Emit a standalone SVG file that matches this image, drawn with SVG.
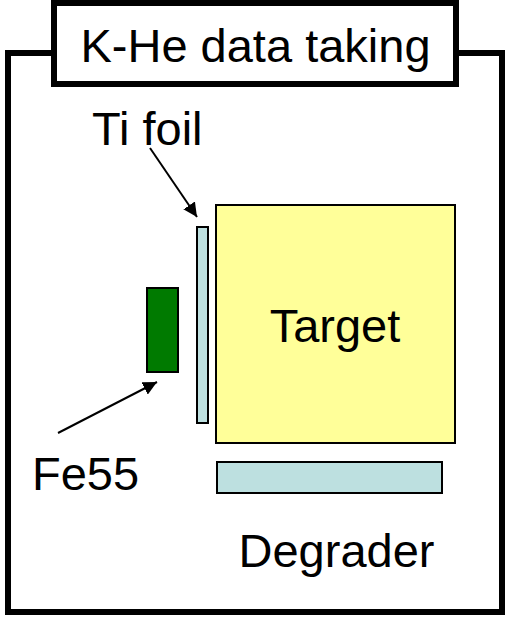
<svg xmlns="http://www.w3.org/2000/svg" width="505" height="617" viewBox="0 0 505 617">
<style>
text{font-family:"Liberation Sans",Arial,sans-serif;font-size:47px;fill:#000}
.frame{fill:#fff;stroke:#000;stroke-width:6}
.part{stroke:#000;stroke-width:2}
.conn{stroke:#000;stroke-width:2;fill:none}
</style>
<defs>
<marker id="ah" viewBox="0 0 10 10" refX="10" refY="5" markerWidth="7" markerHeight="7" markerUnits="strokeWidth" orient="auto">
<path d="M0,0 L10,5 L0,10 z" fill="#000"/>
</marker>
</defs>
<g id="frame">
<rect class="frame" x="8" y="53" width="494" height="559"/>
</g>
<g id="title">
<rect class="frame" x="54" y="3" width="402" height="81"/>
<text x="255.5" y="62" text-anchor="middle">K-He data taking</text>
</g>
<g id="target">
<rect class="part" x="216" y="205" width="239" height="238" fill="#FFFF99"/>
<text x="335" y="342" text-anchor="middle">Target</text>
</g>
<g id="tifoil">
<rect class="part" x="197" y="227" width="11" height="196" fill="#BDE0E0"/>
<text x="92" y="145">Ti foil</text>
</g>
<g id="fe55">
<rect class="part" x="147" y="288" width="31" height="84" fill="#007A00"/>
<text x="32" y="490">Fe55</text>
</g>
<g id="degrader">
<rect class="part" x="217" y="462" width="225" height="31" fill="#BDE0E0"/>
<text x="336.5" y="567" text-anchor="middle">Degrader</text>
</g>
<g id="connectors">
<line class="conn" x1="150" y1="148" x2="197" y2="217" marker-end="url(#ah)"/>
<line class="conn" x1="58" y1="433" x2="157" y2="382" marker-end="url(#ah)"/>
</g>
</svg>
